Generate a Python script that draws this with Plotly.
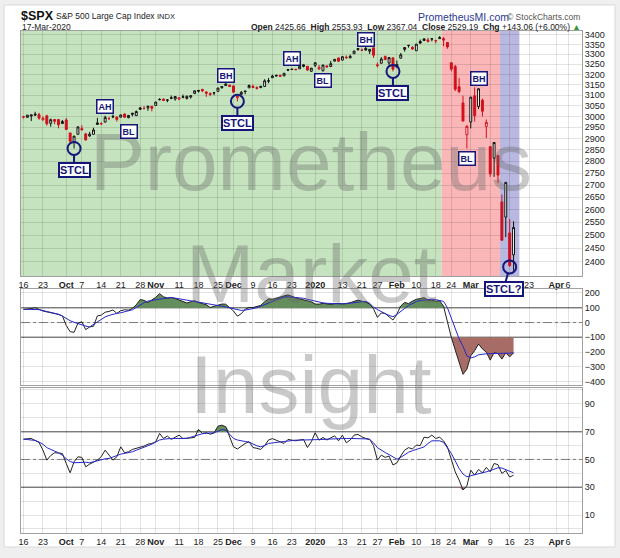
import numpy as np
import pandas as pd
import plotly.graph_objects as go

W, H = 620, 558

# ---------------- data ----------------
HOLIDAYS = ["2019-11-28", "2019-12-25", "2020-01-01", "2020-01-20", "2020-02-17", "2020-04-10"]
FIRST_DAY, LAST_DAY, AXIS_END = "2019-09-16", "2020-03-17", "2020-04-09"
PREV_CLOSE = 3007.39  # close of the session before the first candle

OPEN = [2996.41, 2995.67, 3001.50, 3010.36, 3008.42, 2983.50, 3002.43, 2968.35, 2985.73, 2985.47,
        2967.07, 2983.69, 2924.78, 2885.38, 2918.56, 2944.23, 2920.40, 2911.10, 2918.55, 2963.07,
        2965.81, 2973.61, 2989.68, 3000.77, 2996.84, 2996.48, 3010.73, 2994.01, 3014.78, 3003.32,
        3032.12, 3035.39, 3039.74, 3046.90, 3050.72, 3078.96, 3080.80, 3075.10, 3087.02, 3081.25,
        3080.33, 3089.28, 3084.18, 3090.75, 3107.92, 3117.91, 3127.45, 3114.66, 3108.49, 3111.41,
        3117.44, 3134.85, 3145.49, 3147.18, 3143.85, 3087.41, 3103.50, 3119.21, 3134.62, 3141.86,
        3135.36, 3135.75, 3141.23, 3166.65, 3183.63, 3195.40, 3195.21, 3192.32, 3223.33, 3226.05,
        3225.45, 3227.20, 3247.23, 3240.09, 3215.18, 3244.67, 3226.36, 3217.55, 3241.86, 3238.59,
        3266.03, 3281.81, 3271.13, 3285.35, 3282.27, 3302.97, 3323.66, 3321.03, 3330.02, 3315.77,
        3333.10, 3247.16, 3255.35, 3289.46, 3256.45, 3282.33, 3235.66, 3280.61, 3324.91, 3344.92,
        3335.54, 3318.28, 3365.87, 3370.50, 3365.90, 3378.08, 3369.04, 3380.39, 3380.45, 3360.50,
        3257.61, 3238.94, 3139.90, 3062.54, 2916.90, 2974.28, 3096.46, 3045.75, 3075.70, 2954.20,
        2863.89, 2813.48, 2825.60, 2630.86, 2569.99, 2508.59, 2425.66]
HIGH = [3002.19, 3006.21, 3007.83, 3021.19, 3016.37, 2999.15, 3007.98, 2989.82, 2987.28, 2987.31,
        2983.85, 2992.53, 2924.78, 2911.13, 2953.74, 2959.75, 2925.47, 2929.32, 2948.46, 2993.28,
        2972.84, 3003.28, 2997.54, 3008.29, 3000.00, 3007.33, 3014.57, 3004.78, 3016.07, 3027.39,
        3044.08, 3047.87, 3050.10, 3046.90, 3066.95, 3085.20, 3083.95, 3078.34, 3097.77, 3093.09,
        3088.33, 3102.61, 3098.06, 3098.20, 3120.46, 3124.17, 3127.64, 3118.97, 3110.11, 3112.87,
        3133.83, 3142.69, 3154.26, 3150.30, 3144.31, 3094.97, 3119.38, 3119.45, 3150.60, 3148.87,
        3142.12, 3143.98, 3176.28, 3182.68, 3197.71, 3198.22, 3198.48, 3205.48, 3225.65, 3227.78,
        3226.43, 3240.08, 3247.93, 3240.92, 3231.72, 3258.14, 3246.15, 3246.84, 3244.91, 3267.07,
        3275.58, 3282.99, 3288.13, 3294.25, 3298.66, 3317.11, 3329.88, 3329.79, 3337.77, 3326.88,
        3333.18, 3258.85, 3285.78, 3293.47, 3285.91, 3282.33, 3268.44, 3306.92, 3337.58, 3347.96,
        3341.42, 3352.26, 3375.63, 3381.47, 3385.09, 3380.69, 3375.01, 3393.52, 3389.15, 3360.76,
        3259.81, 3246.99, 3182.51, 3097.07, 2959.72, 3090.96, 3136.72, 3130.97, 3083.04, 2985.93,
        2863.89, 2882.59, 2825.60, 2660.95, 2711.33, 2562.98, 2553.93]
LOW = [2990.67, 2993.73, 2978.57, 3003.16, 2984.68, 2982.23, 2957.73, 2952.86, 2963.71, 2945.53,
       2967.07, 2938.70, 2874.93, 2855.94, 2918.56, 2935.68, 2892.66, 2907.41, 2917.12, 2963.07,
       2962.94, 2973.61, 2985.20, 2991.79, 2976.31, 2995.35, 2995.04, 2991.21, 3000.42, 3001.94,
       3032.12, 3034.81, 3025.96, 3023.19, 3050.72, 3074.87, 3072.15, 3065.89, 3080.23, 3073.58,
       3075.82, 3084.73, 3078.80, 3083.26, 3104.60, 3112.06, 3113.47, 3091.41, 3094.55, 3099.26,
       3117.44, 3131.00, 3143.41, 3139.34, 3110.78, 3070.33, 3102.53, 3103.76, 3134.62, 3135.46,
       3126.09, 3133.21, 3138.47, 3156.51, 3183.63, 3191.03, 3191.14, 3192.32, 3216.03, 3222.30,
       3220.51, 3227.20, 3234.37, 3216.57, 3212.03, 3235.53, 3222.34, 3214.64, 3232.43, 3236.67,
       3263.67, 3260.86, 3268.43, 3277.19, 3280.69, 3302.82, 3318.86, 3316.61, 3320.04, 3301.87,
       3281.53, 3234.50, 3253.22, 3271.89, 3242.80, 3214.68, 3235.66, 3280.61, 3313.75, 3334.39,
       3322.12, 3317.77, 3352.72, 3369.72, 3360.52, 3366.15, 3355.61, 3378.83, 3341.02, 3328.45,
       3214.65, 3118.77, 3108.99, 2977.39, 2855.84, 2945.19, 2976.63, 3034.38, 2999.83, 2901.54,
       2734.43, 2734.00, 2707.22, 2478.86, 2492.37, 2380.94, 2367.04]
CLOSE = [2997.96, 3005.70, 3006.73, 3006.79, 2992.07, 2991.78, 2966.60, 2984.87, 2977.62, 2961.79,
         2976.74, 2940.25, 2887.61, 2910.63, 2952.01, 2938.79, 2893.06, 2919.40, 2938.13, 2970.27,
         2966.15, 2995.68, 2989.69, 2997.95, 2986.20, 3006.72, 2995.99, 3004.52, 3010.29, 3022.55,
         3039.42, 3036.89, 3046.77, 3037.56, 3066.91, 3078.27, 3074.62, 3076.78, 3085.18, 3093.08,
         3087.01, 3091.84, 3094.04, 3096.63, 3120.46, 3122.03, 3120.18, 3108.46, 3103.54, 3110.29,
         3133.64, 3140.52, 3153.63, 3140.98, 3113.87, 3093.20, 3112.76, 3117.43, 3145.91, 3135.96,
         3132.52, 3141.63, 3168.57, 3168.80, 3191.45, 3192.52, 3191.14, 3205.37, 3221.22, 3224.01,
         3223.38, 3239.91, 3240.02, 3221.29, 3230.78, 3257.85, 3234.85, 3246.28, 3237.18, 3253.05,
         3274.70, 3265.35, 3288.13, 3283.15, 3289.29, 3316.81, 3329.62, 3320.79, 3321.75, 3325.54,
         3295.47, 3243.63, 3276.24, 3273.40, 3283.66, 3225.52, 3248.92, 3297.59, 3334.69, 3345.78,
         3327.71, 3352.09, 3357.75, 3379.45, 3373.94, 3380.16, 3370.29, 3386.15, 3373.23, 3337.75,
         3225.89, 3128.21, 3116.39, 2978.76, 2954.22, 3090.23, 3003.37, 3130.12, 3023.94, 2972.37,
         2746.56, 2882.23, 2741.38, 2480.64, 2711.02, 2386.13, 2529.19]

CCI = [88, 90, 95, 100, 88, 78, 72, 68, 64, 55,
       45, -20, -62, -66, -5, 6, -48, -30, -25, 45,
       50, 70, 75, 85, 62, 80, 86, 84, 95, 120,
       155, 150, 135, 150, 170, 195, 174, 166, 168, 162,
       152, 146, 132, 140, 148, 136, 126, 120, 102, 108,
       115, 125, 124, 100, 78, 43, 60, 90, 102, 101,
       108, 116, 140, 160, 157, 163, 170, 180, 187, 176,
       167, 160, 155, 150, 140, 125, 124, 130, 124, 122,
       128, 130, 126, 127, 134, 145, 152, 144, 138, 125,
       93, 35, 65, 61, 39, 17, 56, 112, 136, 128,
       145, 157, 162, 168, 152, 152, 144, 148, 110, 0,
       -100, -185, -270, -350, -315, -225, -190, -145, -178, -200,
       -254, -204, -210, -247, -205, -232, -205]
CCI_SIGNAL = [90, 90, 91, 91, 87, 81, 76, 70, 62, 56,
              44, 28, 12, 2, -8, -15, -24, -30, -14, 2,
              22, 38, 48, 57, 62, 66, 71, 77, 86, 102,
              120, 134, 145, 151, 155, 158, 162, 166, 169, 165,
              160, 156, 152, 147, 143, 138, 133, 128, 123, 119,
              115, 111, 106, 101, 94, 87, 82, 84, 88, 93,
              100, 110, 120, 128, 142, 155, 165, 172, 174, 172,
              170, 167, 164, 157, 150, 143, 137, 133, 130, 128,
              126, 126, 127, 128, 130, 134, 138, 142, 143, 130,
              104, 88, 72, 60, 48, 39, 55, 72, 95, 115,
              130, 142, 148, 152, 156, 158, 155, 150, 143, 100,
              30, -40, -110, -160, -225, -239, -232, -218, -213, -211,
              -210, -210, -210, -210, -208, -207, -204]
RSI = [64.6, 64.8, 65.1, 63.6, 62.2, 56.7, 49.5, 52.8, 54.8, 54.6,
       54.3, 47.0, 40.4, 48.3, 51.9, 51.5, 44.7, 46.6, 48.0, 49.5,
       52.0, 56.7, 53.1, 49.5, 51.9, 59.1, 54.8, 55.5, 57.2, 58.0,
       59.1, 59.6, 61.0, 61.5, 62.7, 68.7, 65.1, 66.8, 64.4, 65.8,
       67.5, 65.1, 65.1, 65.5, 65.8, 71.6, 68.7, 69.2, 68.2, 69.0,
       73.9, 74.7, 73.5, 66.3, 59.1, 57.5, 59.6, 61.5, 62.7, 58.6,
       58.0, 57.2, 60.0, 64.0, 65.0, 63.9, 63.0, 61.5, 64.4, 63.8,
       63.4, 64.0, 64.4, 58.6, 62.7, 69.2, 63.9, 65.8, 64.0, 65.5,
       67.0, 63.4, 67.5, 62.0, 64.0, 67.5, 68.0, 66.3, 65.1, 64.5,
       60.0, 49.5, 53.1, 51.5, 52.4, 46.0, 47.5, 52.5, 56.7, 58.5,
       57.5, 60.3, 60.0, 66.0, 65.5, 67.5, 65.1, 66.0, 63.4, 59.0,
       49.5, 41.1, 35.2, 28.0, 31.0, 42.3, 38.7, 42.8, 40.4, 44.3,
       41.1, 47.1, 46.2, 39.9, 42.0, 37.3, 38.7]
RSI_SIGNAL = [64.6, 64.4, 64.1, 63.7, 62.5, 61.0, 58.5, 57.0, 56.0, 54.8,
              53.0, 50.5, 48.5, 47.6, 47.8, 48.3, 48.0, 47.6, 48.3, 49.2,
              50.0, 50.5, 50.7, 51.5, 52.8, 53.8, 54.3, 55.0, 55.5, 56.6,
              57.6, 58.6, 59.6, 61.0, 62.5, 64.0, 64.6, 65.0, 65.1, 65.1,
              65.1, 65.1, 65.1, 66.0, 67.0, 68.0, 68.5, 68.8, 69.0, 69.2,
              70.3, 71.5, 71.0, 68.0, 65.1, 64.0, 63.3, 62.9, 62.5, 61.0,
              59.8, 59.1, 60.0, 61.5, 62.0, 62.3, 62.6, 62.9, 63.3, 63.6,
              63.9, 63.9, 63.9, 63.9, 63.9, 64.1, 64.2, 64.4, 64.6, 64.8,
              65.0, 65.1, 65.1, 65.1, 65.1, 65.1, 65.1, 65.1, 64.8, 64.4,
              62.0, 58.5, 56.5, 55.0, 53.5, 51.9, 50.2, 51.5, 53.5, 55.2,
              56.3, 57.2, 58.0, 59.0, 61.5, 63.4, 63.4, 63.4, 62.3, 58.5,
              54.3, 49.0, 43.5, 39.5, 37.5, 38.3, 38.9, 39.7, 40.5, 41.1,
              42.0, 43.0, 44.0, 43.8, 42.5, 41.5, 40.4]

TICK_DATES = ["2019-09-16", "2019-09-23", "2019-10-01", "2019-10-07", "2019-10-14", "2019-10-21",
              "2019-10-28", "2019-11-01", "2019-11-11", "2019-11-18", "2019-11-25", "2019-12-02",
              "2019-12-09", "2019-12-16", "2019-12-23", "2020-01-02", "2020-01-13", "2020-01-21",
              "2020-01-27", "2020-02-03", "2020-02-10", "2020-02-18", "2020-02-24", "2020-03-02",
              "2020-03-09", "2020-03-16", "2020-03-23", "2020-04-01", "2020-04-06"]
TICK_TEXT = ["16", "23", "<b>Oct</b>", "7", "14", "21", "28", "<b>Nov</b>", "11", "18", "25",
             "<b>Dec</b>", "9", "16", "23", "<b>2020</b>", "13", "21", "27", "<b>Feb</b>", "10",
             "18", "24", "<b>Mar</b>", "9", "16", "23", "<b>Apr</b>", "6"]
PRICE_TICKS = list(range(2400, 3401, 50))
CCI_TICKS = [200, 100, 0, -100, -200, -300, -400]
RSI_TICKS = [0, 10, 20, 30, 40, 50, 60, 70, 80, 90, 100]
RSI_TICK_TEXT = ["", "10", "", "30", "", "50", "", "70", "", "90", ""]

# market phase bands (first day, last day)
BAND_FIRST = ["2019-09-16", "2020-02-20", "2020-03-12"]
BAND_LAST = ["2020-02-19", "2020-03-11", "2020-03-18"]
BAND_COLORS = ["rgb(196,227,190)", "rgb(251,183,183)", "rgb(184,184,224)"]

# swing labels
LABEL_TEXT = ["AH", "BL", "BH", "AH", "BL", "BH", "AH", "BH", "BL"]
LABEL_DATES = ["2019-10-15", "2019-10-23", "2019-11-27", "2019-12-23", "2020-01-06",
               "2020-01-22", "2020-02-19", "2020-03-04", "2020-02-28"]
LABEL_PRICES = [3045, 2931, 3195, 3281, 3168, 3378, 3437, 3181, 2813]
STCL_DATES = ["2019-10-03", "2019-12-03", "2020-01-31", "2020-03-16"]
STCL_TEXT = ["STCL", "STCL", "STCL", "STCL?"]

# ---------------- helpers ----------------
cal = pd.bdate_range(FIRST_DAY, AXIS_END, freq="C", holidays=HOLIDAYS)
pos = {d.strftime("%Y-%m-%d"): i for i, d in enumerate(cal)}
n = len(CLOSE)
xs = np.arange(n)
X_RANGE = [-0.64, 143.6]

def PX(x):
    return x / W

def PY(y):
    return 1 - y / H

NAVY = "#16167a"
RED = "#d0101c"
FONT = "Liberation Sans, Arial, sans-serif"

close = np.array(CLOSE)
prev = np.r_[PREV_CLOSE, close[:-1]]
up = close >= prev

fig = go.Figure()

def candles(mask, color):
    idx = np.where(mask)[0]
    return go.Candlestick(
        x=xs[idx], open=np.array(OPEN)[idx], high=np.array(HIGH)[idx],
        low=np.array(LOW)[idx], close=close[idx],
        increasing=dict(line=dict(color=color, width=1), fillcolor="white"),
        decreasing=dict(line=dict(color=color, width=1), fillcolor=color),
        whiskerwidth=0, showlegend=False, hoverinfo="skip", xaxis="x", yaxis="y")

fig.add_trace(candles(up, "#111111"))
fig.add_trace(candles(~up, RED))

stcl_idx = [pos[d] for d in STCL_DATES]
stcl_low = [LOW[i] for i in stcl_idx]
fig.add_trace(go.Scatter(x=stcl_idx, y=stcl_low, mode="markers",
                         marker=dict(symbol="circle-open", size=13, color=NAVY, line=dict(width=2, color=NAVY)),
                         showlegend=False, hoverinfo="skip", xaxis="x", yaxis="y"))

FILL_G = "rgb(100,142,92)"
FILL_B = "rgb(168,108,102)"

def band_fill(y, base, clipper, color, xa, ya):
    fig.add_trace(go.Scatter(x=xs, y=[base] * n, mode="lines", line=dict(width=0),
                             showlegend=False, hoverinfo="skip", xaxis=xa, yaxis=ya))
    fig.add_trace(go.Scatter(x=xs, y=clipper(y, base), mode="lines", line=dict(width=0),
                             fill="tonexty", fillcolor=color,
                             showlegend=False, hoverinfo="skip", xaxis=xa, yaxis=ya))

cci = np.array(CCI, float)
band_fill(cci, 100, np.maximum, FILL_G, "x2", "y2")
band_fill(cci, -100, np.minimum, FILL_B, "x2", "y2")
fig.add_trace(go.Scatter(x=xs, y=CCI, mode="lines", line=dict(color="#222222", width=1),
                         showlegend=False, hoverinfo="skip", xaxis="x2", yaxis="y2"))
fig.add_trace(go.Scatter(x=xs, y=CCI_SIGNAL, mode="lines", line=dict(color="#2626c8", width=1),
                         showlegend=False, hoverinfo="skip", xaxis="x2", yaxis="y2"))

rsi = np.array(RSI, float)
band_fill(rsi, 70, np.maximum, FILL_G, "x3", "y3")
band_fill(rsi, 30, np.minimum, FILL_B, "x3", "y3")
fig.add_trace(go.Scatter(x=xs, y=RSI, mode="lines", line=dict(color="#222222", width=1),
                         showlegend=False, hoverinfo="skip", xaxis="x3", yaxis="y3"))
fig.add_trace(go.Scatter(x=xs, y=RSI_SIGNAL, mode="lines", line=dict(color="#2626c8", width=1),
                         showlegend=False, hoverinfo="skip", xaxis="x3", yaxis="y3"))

# ---------------- shapes ----------------
shapes = []
shapes.append(dict(type="rect", xref="paper", yref="paper", x0=PX(4), x1=PX(615), y0=PY(547), y1=PY(5),
                   fillcolor="white", line=dict(color="#d9d9d9", width=1), layer="below"))
for k, (a, b, c) in enumerate(zip(BAND_FIRST, BAND_LAST, BAND_COLORS)):
    x0 = X_RANGE[0] if k == 0 else pos[a] - 0.5
    shapes.append(dict(type="rect", xref="x", yref="y domain", x0=x0, x1=pos[b] + 0.5, y0=0, y1=1,
                       fillcolor=c, line=dict(width=0), layer="below"))
for yv, dash in [(100, "solid"), (-100, "solid"), (0, "dashdot")]:
    shapes.append(dict(type="line", xref="x2 domain", yref="y2", x0=0, x1=1, y0=yv, y1=yv,
                       line=dict(color="#8c8c8c", width=1.5 if dash == "solid" else 1, dash=dash), layer="below"))
for yv, dash in [(70, "solid"), (30, "solid"), (50, "dashdot")]:
    shapes.append(dict(type="line", xref="x3 domain", yref="y3", x0=0, x1=1, y0=yv, y1=yv,
                       line=dict(color="#8c8c8c", width=1.5 if dash == "solid" else 1, dash=dash), layer="below"))

# ---------------- annotations ----------------
ann = []
WM = dict(family=FONT, size=82, color="rgba(105,105,105,0.36)")
for t, yc in [("Prometheus", 161), ("Market", 273), ("Insight", 384)]:
    ann.append(dict(text=t, xref="paper", yref="paper", x=PX(311), y=PY(yc), showarrow=False,
                    xanchor="center", yanchor="middle", font=WM))

for t, d, p in zip(LABEL_TEXT, LABEL_DATES, LABEL_PRICES):
    ann.append(dict(text="<b>%s</b>" % t, xref="x", yref="y", x=pos[d], y=np.log10(p), showarrow=False,
                    font=dict(family=FONT, size=9, color=NAVY), bgcolor="white",
                    bordercolor=NAVY, borderwidth=1.5, borderpad=1))
for t, i, lo in zip(STCL_TEXT, stcl_idx, stcl_low):
    ann.append(dict(text="<b>%s</b>" % t, xref="x", yref="y", x=i, y=np.log10(lo), showarrow=True,
                    arrowhead=0, arrowwidth=2, arrowcolor=NAVY, ax=-6 if t.endswith("?") else 0, ay=22,
                    standoff=6.5, font=dict(family=FONT, size=11, color=NAVY), bgcolor="white",
                    bordercolor=NAVY, borderwidth=2, borderpad=0))

chg = CLOSE[-1] - CLOSE[-2]
pct = chg / CLOSE[-2] * 100
hdr = ("<b>Open</b> %.2f  <b>High</b> %.2f  <b>Low</b> %.2f  <b>Close</b> %.2f  <b>Chg</b> %+.2f (%+.2f%%) "
       "<span style='color:#2e9e2e'>▲</span>") % (OPEN[-1], HIGH[-1], LOW[-1], CLOSE[-1], chg, pct)

def txt(s, x, y, size, color="#222", anchor="left"):
    ann.append(dict(text=s, xref="paper", yref="paper", x=PX(x), y=PY(y), showarrow=False,
                    xanchor=anchor, yanchor="middle", font=dict(family=FONT, size=size, color=color)))

txt("<b>$SPX</b>", 19, 16, 12.5, "#111")
txt("S&P 500 Large Cap Index", 54, 16.5, 8.5)
txt("INDX", 155, 16.5, 7.5)
txt("17-Mar-2020", 20, 27, 8.5)
txt("PrometheusMI.com", 416, 17, 10.5, "#2b3a94")
txt("© StockCharts.com", 505, 17, 8.5, "#555")
txt(hdr, 583, 27, 8.5, "#222", "right")

# ---------------- layout ----------------
grid = "rgba(0,0,0,0.11)"
tickvals = [pos[d] for d in TICK_DATES]
xcommon = dict(domain=[PX(21), PX(582)], range=X_RANGE, tickvals=tickvals, ticktext=TICK_TEXT,
               tickangle=0, automargin=False,
               showgrid=True, gridcolor=grid, gridwidth=1, zeroline=False, ticks="",
               showline=True, mirror=True, linecolor="#a0a0a0", linewidth=1,
               tickfont=dict(family=FONT, size=9, color="#222"), rangeslider=dict(visible=False),
               fixedrange=True)
ycommon = dict(side="right", showgrid=True, gridcolor=grid, zeroline=False, ticks="", automargin=False,
               showline=True, mirror=True, linecolor="#a0a0a0", linewidth=1,
               tickfont=dict(family=FONT, size=9, color="#222"), fixedrange=True)

fig.update_layout(
    width=W, height=H, autosize=False, margin=dict(l=0, r=0, t=0, b=0, pad=0),
    paper_bgcolor="#efefef", plot_bgcolor="white", showlegend=False,
    xaxis=dict(xcommon, anchor="y"),
    xaxis2=dict(xcommon, anchor="y2", matches="x", showticklabels=False),
    xaxis3=dict(xcommon, anchor="y3", matches="x"),
    yaxis=dict(ycommon, domain=[PY(276), PY(31)], type="log", range=[3.37067, 3.53408],
               tickvals=PRICE_TICKS, ticktext=[str(v) for v in PRICE_TICKS]),
    yaxis2=dict(ycommon, domain=[PY(385), PY(288.5)], range=[-422, 230], tickvals=CCI_TICKS),
    yaxis3=dict(ycommon, domain=[PY(532.7), PY(388)], range=[-2.7, 101.4], tickvals=RSI_TICKS,
                ticktext=RSI_TICK_TEXT),
    shapes=shapes, annotations=ann,
)

# the page's default body margin would offset the 620x558 figure; remove it
fig.write_html("out.html", config={"displayModeBar": False},
               post_script="document.body.style.margin='0px';document.body.style.background='#efefef';")
